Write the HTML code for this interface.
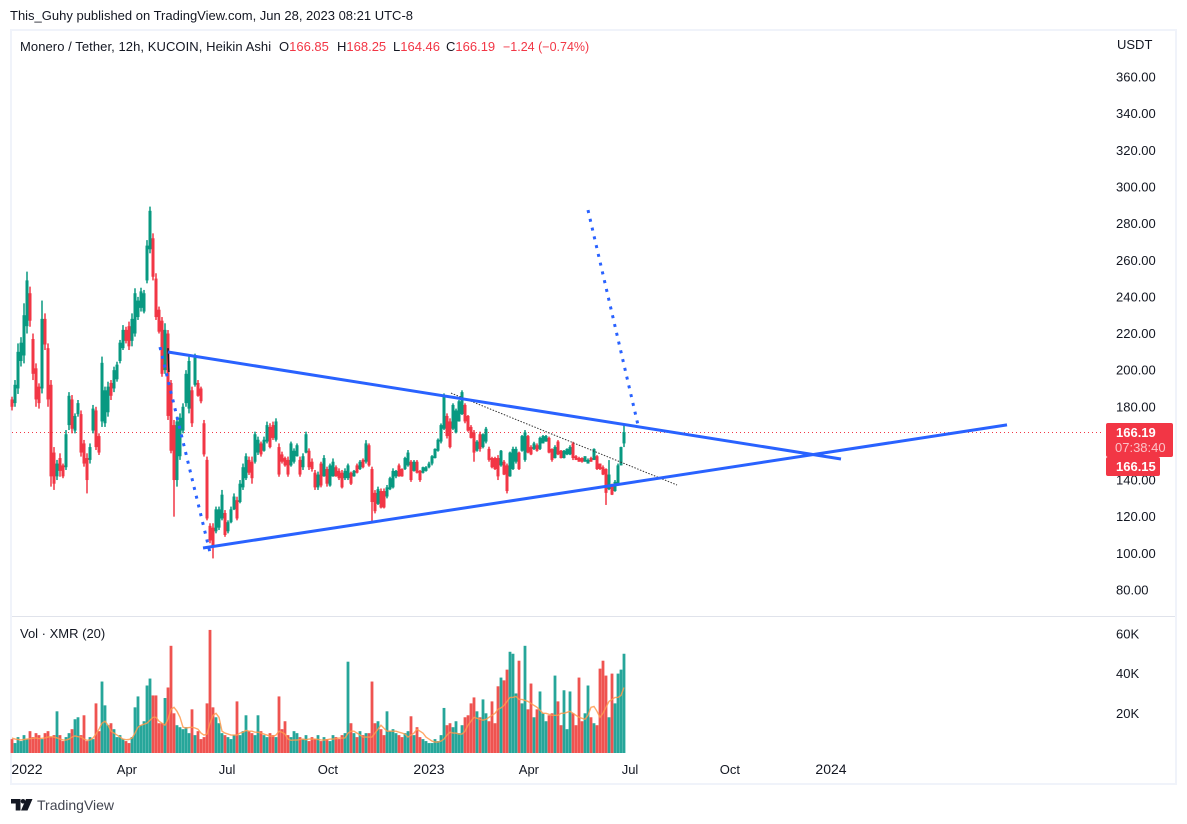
<!DOCTYPE html>
<html>
<head>
<meta charset="utf-8">
<title>Monero / Tether chart</title>
<style>
html,body{margin:0;padding:0;background:#fff;width:1187px;height:824px;overflow:hidden}
svg{display:block;font-family:"Liberation Sans",sans-serif}
text{font-size:13px;fill:#131722}
</style>
</head>
<body>
<svg id="chart" xmlns="http://www.w3.org/2000/svg" width="1187" height="824" viewBox="0 0 1187 824">
  <rect x="0" y="0" width="1187" height="824" fill="#ffffff"/>
  <text x="10" y="20" fill="#131722">This_Guhy published on TradingView.com, Jun 28, 2023 08:21 UTC-8</text>
  <rect x="11" y="30" width="1165" height="754" fill="none" stroke="#f0f3fa" stroke-width="2"/>
  <line x1="12" y1="616.5" x2="1175" y2="616.5" stroke="#e0e3eb" stroke-width="1"/>
  <g id="volume-pane"></g>
  <line id="last-price-line" stroke="#f23645" stroke-width="1" stroke-dasharray="1 3"/>
  <g id="candles"></g>
  <g id="drawings"></g>
  <g id="price-axis"></g>
  <g id="volume-axis"></g>
  <g id="time-axis"></g>
  <text x="1117" y="49">USDT</text>
  <g>
    <text x="20" y="51" style="letter-spacing:.07px">Monero / Tether, 12h, KUCOIN, Heikin Ashi</text>
    <text x="279" y="51">O<tspan style="fill:#f23645">166.85</tspan></text>
    <text x="337" y="51">H<tspan style="fill:#f23645">168.25</tspan></text>
    <text x="393" y="51">L<tspan style="fill:#f23645">164.46</tspan></text>
    <text x="446" y="51">C<tspan style="fill:#f23645">166.19</tspan></text>
    <text x="503" y="51" style="fill:#f23645;font-size:12.500px">−1.24 (−0.74%)</text>
  </g>
  <text x="20" y="638">Vol · XMR (20)</text>
  <g>
    <rect x="1106" y="423" width="67" height="34" rx="2" fill="#f23645"/>
    <text x="1116" y="437" style="fill:#fff;font-weight:bold">166.19</text>
    <text x="1115" y="452" style="fill:#fbc2c7">07:38:40</text>
    <rect x="1106" y="457" width="54" height="19" rx="2" fill="#f23645"/>
    <text x="1116" y="471" style="fill:#fff;font-weight:bold">166.15</text>
  </g>
  <g>
    <path d="M11 799h9.500v11.500h-4.800v-7h-4.700zM26 799h6.500l-5 11.500h-6.500z" fill="#131722"/>
    <circle cx="23" cy="801.300" r="2.300" fill="#131722"/>
    <text x="37" y="810" style="font-size:14px;fill:#434651">TradingView</text>
  </g>
</svg>
<script>
var opens = [184,182,190,205,208,224,242,217,201,191,
190,228,212,192,155,142,152,148,147,170,
184,167,176,176,160,152,151,167,178,164,
172,171,177,193,190,195,205,212,222,224,
216,220,229,234,232,249,266,272,250,233,
227,200,220,193,170,140,153,167,182,179,
189,192,193,190,171,151,115,114,112,114,
119,122,112,117,124,129,128,136,141,151,
150,150,155,160,156,161,169,170,162,158,
154,152,151,148,150,153,151,147,155,156,
150,144,136,149,
142,146,137,142,147,145,
144,141,141,144,142,148,146,151,150,159,
146,133,127,134,134,131,135,136,142,148,
146,146,148,150,145,150,145,144,145,147,
149,152,156,161,168,175,172,168,166,172,
176,181,175,169,166,156,165,158,161,157,
152,152,152,148,150,148,142,146,150,155,
156,151,164,158,157,159,157,160,161,163,
157,152,161,156,152,154,154,160,153,152,
152,150,149,152,151,153,149,147,146,135,
137,134,138,148,160];
var closes = [180,192,210,215,230,249,227,198,184,182,
228,214,184,142,138,149,145,142,165,186,
168,175,182,155,149,140,158,179,158,155,
204,189,191,186,200,203,215,222,216,213,
228,242,238,243,242,268,287,251,229,221,
198,222,175,156,140,172,174,180,198,205,
171,207,186,183,154,119,107,104,124,124,
132,110,117,124,131,119,138,147,153,144,
141,165,162,154,162,170,158,163,172,143,
150,148,143,160,156,159,143,153,165,147,
146,136,143,137,
152,138,148,150,142,141,
136,145,148,138,145,144,150,147,160,148,
128,123,135,125,125,136,141,145,145,142,
142,152,155,140,150,144,140,147,147,149,
153,157,162,170,186,164,158,181,178,183,
188,172,167,163,155,161,157,165,168,151,
147,146,142,156,143,134,155,157,157,146,
164,166,155,154,160,156,163,164,164,155,
151,158,154,152,156,157,158,152,151,150,
150,153,151,150,157,146,146,143,133,143,
132,139,148,158,166.19];
var highs = [185.5,194.6,214.6,218,236.5,253.8,245.6,220,203.7,192.8,
238,231,214.6,194.6,158,151,154.6,149,167.3,188,
186.4,176.4,183.7,178,161.9,154.6,160,181,180,165.5,
207.4,191,193.7,194.6,201.9,204.6,216.5,224.6,223.7,226.5,
231,244.7,240,245,243.8,271,289.3,274.7,252.9,234.7,
229,225.6,221.9,194.6,172.8,174.6,176.4,181.9,200,207.4,
191,209,194.6,191,172.8,152.8,116.4,116.4,125.5,125.5,
134.6,123.6,118,125.5,132.7,130.9,140,149,154.6,152.8,
152.8,166.4,163.7,161,163.7,171.9,171,171.9,173.7,160,
155.5,152.8,152.8,161,157.3,160,152.8,154.6,166.4,157.3,
151.8,145.5,144.6,150,
153.6,147.3,149,151.8,148,146.4,
145.5,146.4,149,144.6,145.5,149,150.9,151.8,161.8,160,
147.3,134.5,136.4,135.4,135.4,137.3,141.8,146.4,145.5,149,
146.4,152.7,156.4,150.9,150.9,150.9,145.5,147.3,147.6,150,
153.6,157.3,162.7,170.9,187.3,176.4,173.7,181.9,179,183.7,
189,181.9,175.5,170,167.3,161.8,166.4,165.5,169,158.2,
152.7,152.7,153.6,156.4,150.9,149,155.5,158.2,158.2,155.5,
164.6,167.3,164.6,159,160.9,160,163.7,164.6,164.6,163.7,
157.3,159,161.8,156.4,156.4,157.3,159,160.9,153.6,152.7,
152.4,153,151.8,152.7,157.3,153.6,149,148,146.4,150.9,
138,140,149,158.2,170];
var lows = [178,180,187,202,203.7,220,223.7,194.6,180,179,
187.3,211,180,136.4,134.6,140,141.8,141,145.5,167.3,
165.5,165.5,174.6,152.8,147.3,132.7,149,165.5,156.4,153.7,
169,169,174.6,183.7,188,193.7,203.7,211,214.6,211,
213,218.3,227.4,232,231,247.4,263.8,249,227.4,220,
196.4,198,172.8,154.6,120,136.4,151,165.5,180,176.4,
169,191,185.5,181.9,152.8,118,105.5,97.2,110.9,112.7,
118,109,110.9,116.4,123.6,118,127.3,134.6,140,142.8,
138,149,153.7,152.8,155.5,160,157.3,161.9,161,141.8,
149,147.3,141.8,147.3,149,152.8,141.8,145.5,154.6,145.5,
144.6,134.6,134.6,136,
141.8,136.4,136.4,141.8,141.8,140,
135.4,140,140,137.3,141.8,143.6,145.5,146.4,149,147.3,
116.3,121.8,126.4,124.5,124.5,130,134.5,135.4,141,141.8,
141.8,145.5,147.3,139,144.6,143.6,139,143.6,144.6,146.4,
148,151.8,155.5,160,167.3,162.7,157.3,167.3,165.5,171.9,
175.5,171,166.4,162.7,150,155.5,155.5,157.3,160,150,
146.4,145.5,140,147.3,142.7,132.7,141.8,145.5,149,145.5,
155.5,150,154.6,153.6,156.4,155.5,156.4,160,160.9,154.6,
150,151.8,153.6,151.8,151.8,153.6,153.6,150.9,150.9,150,
149.5,150,149,150,150.9,145.5,145.5,142.7,126.4,134.5,
131.8,133.6,138,148,158];
var volumes = [7,5,8,6,9,7,11,8,10,9,
7,10,11,8,9,21,9,6,8,10,
12,17,18,9,19,6,8,7,25,11,
36,24,14,15,12,8,9,7,6,5,
8,23,28.5,14,16,34,37.5,29,29,15,
15,27.7,33,54,20,14,13,12,13,10,
22,9,11,7,8,25,62,23,18,15,
10,9,8,7,9,26,9,11,19,11,
10,9,19,11,9,8,10,9,8,28.5,
12,16,9,8,11,10,8,7,9,6,
8,7,9,6,8,7,6,9,8,7,
9,10,46,15,10,8,11,9,10,10,
36,15,16,12,9,21,11,12,10,9,
8,10,11,18.5,9,13,8,7,6,5,
5,7,6,9,22.7,14,15,13,16,10,
14,18,19,25,28,21,18,27,20,16,
26,15,33.6,38,36.6,42,51,50,30,46.5,
25,54,22,35,18,22,31,20,16,19,
20,39,26,14,31.6,12,31,20,14,38,
16,20,34,18,15,14,42.5,46.5,39,18,
40,25,40,42,50];
var volumeMA = [7.5,7,6.8,6.6,6.8,7,7.2,7.4,7.6,7.2,
7.4,7.6,8,8.2,8,7.6,7,6.6,6.5,7,
8,8.6,8.2,8,7,6.4,6.6,7.5,9.5,12,
15,16,14,11,10,9,8,7,6.7,6.8,
7.5,10,13,14,14.5,15,16.5,18,18,16,
15,14,17,22,23,21,18,13,12.6,12.8,
13,12.6,12,10,9,9.5,15,19,20,18,
11,10,9.5,9,9,9,10,10.5,11.4,11,
11,10.5,10.5,10,9.5,9,8.5,8.4,9,11,
10.5,9.5,7,6.4,6.5,6.5,6.8,7,6.7,7,
7,7,6.8,6.6,6.5,6.7,7,7,7.2,7.5,
7.5,7.6,10,11,11,10,9,8,8,8,
8,10,12,14,12.5,11,11,11,11,10.5,
10,9.5,8,9,10,12,11,10,8,7,
6,5.5,5.5,6,7,9,10.5,10,10,9.5,
9.5,11,14,16,18,17.5,17,16.5,17,18,
19,20,22,22.7,24,26,28,28,28.5,27,
27,26.5,26,25,24,23,21.5,20,20,19.5,
19,19,19,20,20,20.5,21,20,19,18,
17.5,17,19,23,23.5,21,18,20,23,26,
27,28,28,29,33];
var priceTicks = [360,340,320,300,280,260,240,220,200,180,140,120,100,80];
var volumeTicks = [60,40,20];
var timeLabels = ["2022","Apr","Jul","Oct","2023","Apr","Jul","Oct","2024"];
var timeLabelBars = [5,38.3,71.7,105.3,139,172.3,206,239.3,273];
var lastPrice = [166.19];
var topLine = [[52,209.9],[276.33,151.5]];
var bottomLine = [[63.67,102.9],[331.67,170.1]];
var fallDots = [[49.33,212.6],[66.33,98.2]];
var riseDots = [[192,287.4],[208.67,170]];
var thinLine = [[146.33,187.5],[221.67,137.3]];
var blackMark = [[52,212],[52.33,199]];

var NS = 'http://www.w3.org/2000/svg';
function xAt(i){ return 12 + i * 3; }
function yPrice(p){ return 553.3 - (p - 100) * 1.8315; }
function yVol(v){ return 753 - v * 1.985; }
function make(tag, attrs, parent){
  var el = document.createElementNS(NS, tag);
  for (var k in attrs) el.setAttribute(k, attrs[k]);
  parent.appendChild(el);
  return el;
}
var candleGroup = document.getElementById('candles');
var volumeGroup = document.getElementById('volume-pane');
var drawingGroup = document.getElementById('drawings');
var priceAxis = document.getElementById('price-axis');
var volumeAxis = document.getElementById('volume-axis');
var timeAxis = document.getElementById('time-axis');

volumes.forEach(function(v, i){
  var up = closes[i] >= opens[i];
  var bar = make('rect', {x: xAt(i) - 1.4, y: yVol(v), width: 2.8, height: 753 - yVol(v), fill: up ? '#26a69a' : '#ef5350'}, volumeGroup);
  
  
});
var maPoints = volumeMA.map(function(v, i){ return xAt(i) + ',' + yVol(v).toFixed(1); }).join(' ');
var maLine = make('polyline', {points: maPoints, fill: 'none', stroke: '#ff9a4d', 'stroke-width': 1.4, opacity: 0.85}, volumeGroup);



opens.forEach(function(o, i){
  var c = closes[i];
  var color = c >= o ? '#089981' : '#f23645';
  var wick = make('rect', {x: xAt(i) - 0.75, y: yPrice(highs[i]), width: 1.5, height: yPrice(lows[i]) - yPrice(highs[i]), fill: color}, candleGroup);
  
  
  var top = Math.max(o, c), bottom = Math.min(o, c);
  var body = make('rect', {x: xAt(i) - 1.5, y: yPrice(top), width: 3, height: Math.max(1, yPrice(bottom) - yPrice(top)), fill: color}, candleGroup);
  
  
});

var lastLine = document.getElementById('last-price-line');
var lastY = Math.floor(yPrice(lastPrice[0])) + 0.5;
lastLine.setAttribute('x1', 12);
lastLine.setAttribute('x2', 1104);
lastLine.setAttribute('y1', lastY);
lastLine.setAttribute('y2', lastY);

function drawSegment(anchors, attrs){
  var base = {x1: xAt(anchors[0][0]), y1: yPrice(anchors[0][1]), x2: xAt(anchors[1][0]), y2: yPrice(anchors[1][1])};
  for (var k in attrs) base[k] = attrs[k];
  return make('line', base, drawingGroup);
}
var seg;
seg = drawSegment(thinLine, {stroke: '#333', 'stroke-width': 1, 'stroke-dasharray': '1.5 1.5'});


seg = drawSegment(blackMark, {stroke: '#131722', 'stroke-width': 1.5});


seg = drawSegment(fallDots, {stroke: '#2962ff', 'stroke-width': 3, 'stroke-dasharray': '3 6'});


seg = drawSegment(riseDots, {stroke: '#2962ff', 'stroke-width': 3, 'stroke-dasharray': '3 6'});


seg = drawSegment(topLine, {stroke: '#2962ff', 'stroke-width': 3});


seg = drawSegment(bottomLine, {stroke: '#2962ff', 'stroke-width': 3});



priceTicks.forEach(function(p){
  var t = make('text', {x: 1116, y: yPrice(p) + 4.5}, priceAxis);
  t.textContent = p.toFixed(2);
  
  
});
volumeTicks.forEach(function(v){
  var t = make('text', {x: 1116, y: yVol(v) + 4.5}, volumeAxis);
  t.textContent = v + 'K';
  
  
});
timeLabels.forEach(function(label, i){
  var t = make('text', {x: xAt(timeLabelBars[i]), y: 774, 'text-anchor': 'middle'}, timeAxis);
  t.textContent = label;
  
  
  if (/^\d/.test(label)) t.style.fontSize = '14px';
});
</script>
</body>
</html>
